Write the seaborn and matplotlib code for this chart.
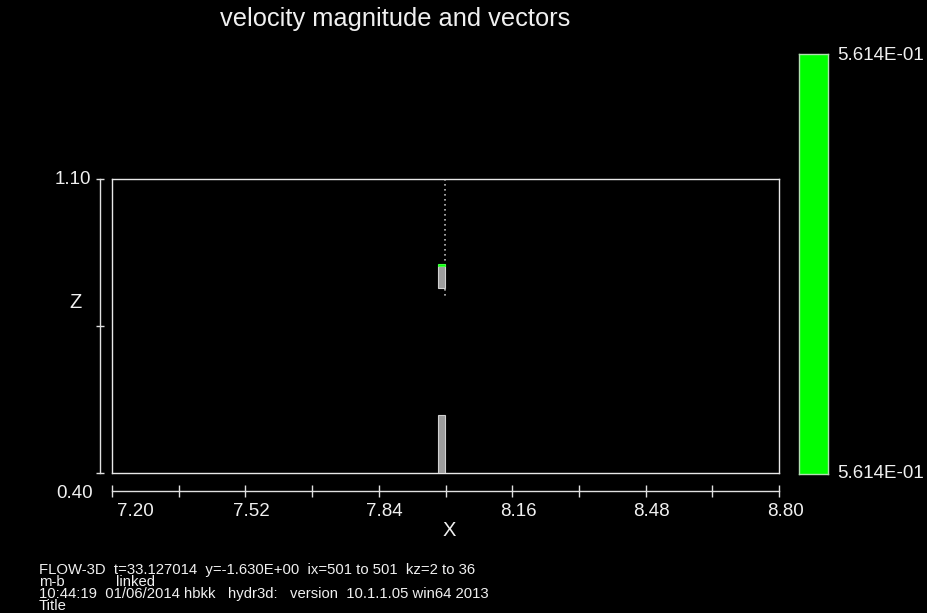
import numpy as np
import matplotlib
matplotlib.use('Agg')
import matplotlib.pyplot as plt
import matplotlib.transforms as mtransforms
from matplotlib.colors import ListedColormap
import seaborn as sns

sns.set_style('dark')
plt.rcParams['font.family'] = ['Liberation Sans', 'DejaVu Sans']
plt.rcParams['text.color'] = 'white'

# cells (x-left, width, z-bottom, z-top)
cell_left = [7.981, 7.981]
cell_width = [0.019, 0.019]
cell_bottom = [0.400, 0.840]
cell_top = [0.539, 0.893]
# thin green band on top of the upper cell
green_bottom = [0.893]
green_top = [0.898]
# dotted vector line
vec_x = [7.999, 7.999]
vec_z = [1.100, 0.818]

x_major = [7.20, 7.52, 7.84, 8.16, 8.48, 8.80]
x_minor = [7.36, 7.68, 8.00, 8.32, 8.64]
x_labels = ['7.20', '7.52', '7.84', '8.16', '8.48', '8.80']
z_ticks = [0.40, 0.75, 1.10]

vel_min = 0.5614
vel_max = 0.5614

W, H = 928, 613
fig = plt.figure(figsize=(W / 100, H / 100), dpi=100, facecolor='black')

def box(x0, y0, x1, y1):
    # pixel box -> figure fraction
    return [x0 / W, 1 - y1 / H, (x1 - x0) / W, (y1 - y0) / H]

# main frame
ax = fig.add_axes(box(112, 179, 779, 473))
ax.set_facecolor('black')
ax.set_xlim(7.20, 8.80)
ax.set_ylim(0.40, 1.10)
for s in ax.spines.values():
    s.set_visible(True)
    s.set_color('#e8e8e8')
    s.set_linewidth(1.0)
ax.set_xticks([])
ax.set_yticks([])
ax.grid(False)

heights = [t - b for t, b in zip(cell_top, cell_bottom)]
ax.bar(cell_left, heights, width=cell_width, bottom=cell_bottom, align='edge',
       color='#9c9c9c', edgecolor='#d0d0d0', linewidth=0.8, zorder=3)
ax.bar(cell_left[1:], [t - b for t, b in zip(green_top, green_bottom)],
       width=cell_width[1:], bottom=green_bottom, align='edge',
       color='#00ff00', edgecolor='#40ff40', linewidth=0.8, zorder=4)
sns.lineplot(x=vec_x, y=vec_z, estimator=None, sort=False, ax=ax,
             color='#b8b8b8', linewidth=1.2, linestyle=(0, (1, 2)), zorder=2)

# separate x axis below the frame
axx = fig.add_axes(box(112, 491, 779, 491.01))
axx.set_facecolor('none')
axx.set_xlim(7.20, 8.80)
for k, s in axx.spines.items():
    s.set_visible(k == 'bottom')
axx.spines['bottom'].set_color('#e0e0e0')
axx.spines['bottom'].set_linewidth(1.0)
axx.set_yticks([])
axx.set_xticks(x_major)
axx.set_xticks(x_minor, minor=True)
axx.tick_params(axis='x', which='both', direction='inout', length=9, width=1,
                color='#e0e0e0', labelbottom=False, bottom=True)
axx.grid(False)
for i, (xv, lab) in enumerate(zip(x_major, x_labels)):
    dx = 5 if i == 0 else 6
    tr = mtransforms.offset_copy(axx.get_xaxis_transform(), fig=fig, x=dx, y=-20, units='dots')
    axx.text(xv, 0, lab, transform=tr, ha='left' if i == 0 else 'center',
             va='center', fontsize=13.5, color='#f0f0f0')
fig.text(449 / W, 1 - 531 / H, 'X', ha='center', va='center', fontsize=14.5, color='#f0f0f0')

# separate z axis left of the frame
axz = fig.add_axes(box(100, 179, 100.01, 473))
axz.set_facecolor('none')
axz.set_ylim(0.40, 1.10)
for k, s in axz.spines.items():
    s.set_visible(k == 'left')
axz.spines['left'].set_color('#e0e0e0')
axz.spines['left'].set_linewidth(1.0)
axz.set_xticks([])
axz.set_yticks(z_ticks)
axz.tick_params(axis='y', direction='inout', length=6, width=1, color='#e0e0e0',
                labelleft=False, left=True)
axz.grid(False)
fig.text(91 / W, 1 - 180 / H, '1.10', ha='right', va='center', fontsize=13.5, color='#f0f0f0')
fig.text(93 / W, 1 - 494 / H, '0.40', ha='right', va='center', fontsize=13.5, color='#f0f0f0')
fig.text(76 / W, 1 - 303 / H, 'Z', ha='center', va='center', fontsize=14.5, color='#f0f0f0')

# colour bar
cax = fig.add_axes(box(799, 54, 828, 474))
sns.heatmap(np.array([[vel_max], [vel_min]]), cmap=ListedColormap(['#00ff00']),
            cbar=False, ax=cax, xticklabels=False, yticklabels=False,
            linewidths=0)
for s in cax.spines.values():
    s.set_visible(True)
    s.set_color('#b0e0b0')
    s.set_linewidth(1.0)
fig.text(837 / W, 1 - 56 / H, f'{vel_max:.3E}', ha='left', va='center',
         fontsize=13.5, color='#f0f0f0')
fig.text(837 / W, 1 - 473 / H, f'{vel_min:.3E}', ha='left', va='center',
         fontsize=13.5, color='#f0f0f0')

# title
fig.text(395 / W, 1 - 19 / H, 'velocity magnitude and vectors', ha='center', va='center',
         fontsize=18.3, color='#f0f0f0')

# footer
footer = [
    ('FLOW-3D  t=33.127014  y=-1.630E+00  ix=501 to 501  kz=2 to 36', 39, 574),
    ('m-b', 39, 586),
    ('linked', 116, 586),
    ('10:44:19  01/06/2014 hbkk', 39, 598),
    ('hydr3d:   version  10.1.1.05 win64 2013', 228, 598),
    ('Title', 39, 610),
]
for txt, px, py in footer:
    fig.text(px / W, 1 - py / H, txt, ha='left', va='baseline', fontsize=10.75, color='#f0f0f0')

fig.savefig('out.png', dpi=100, facecolor='black')
